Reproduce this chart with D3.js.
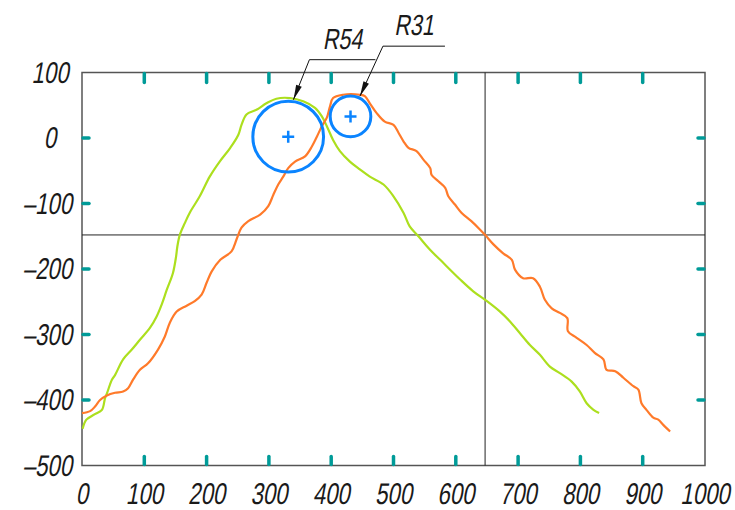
<!DOCTYPE html>
<html>
<head>
<meta charset="utf-8">
<script src="https://cdn.jsdelivr.net/npm/d3@7"></script>
<style>
  body { margin: 0; background: #fff; }
  text { font-family: "Liberation Sans", Arimo, sans-serif; fill: #1a1a1a; }
</style>
</head>
<body>
<script>
const width = 735;
const height = 510;

const xTicks = [0, 100, 200, 300, 400, 500, 600, 700, 800, 900, 1000];
const yTicks = [100, 0, -100, -200, -300, -400, -500];

// green profile
const greenX = [1, 7, 20, 32, 37, 40, 48, 53, 66, 80, 93, 109, 120, 128, 136, 146, 151, 153, 157, 165, 173, 189, 205, 221, 238, 251, 256, 264, 280, 296, 312, 334, 355, 374, 385, 393, 403, 414, 430, 446, 462, 484, 500, 516, 526, 540, 559, 575, 607, 628, 650, 671, 687, 703, 719, 735, 751, 767, 786, 799, 810, 821, 830];
const greenY = [-444, -430, -422, -415, -397, -390, -369, -362, -338, -323, -308, -290, -272, -254, -232, -206, -181, -166, -148, -130, -114, -89, -59, -36, -15, 5, 20, 36, 43, 53, 60, 61, 56, 46, 33, 18, -3, -20, -36, -48, -59, -71, -89, -114, -135, -150, -171, -186, -216, -234, -249, -265, -280, -298, -316, -331, -349, -359, -372, -387, -405, -415, -420];

// orange profile
const orangeX = [0, 13, 21, 29, 40, 53, 66, 74, 82, 93, 106, 122, 133, 141, 152, 168, 181, 192, 200, 208, 222, 240, 248, 256, 267, 286, 299, 307, 315, 323, 331, 342, 358, 369, 377, 385, 393, 398, 403, 419, 446, 454, 462, 473, 486, 500, 508, 516, 524, 537, 548, 559, 561, 572, 583, 588, 599, 609, 625, 639, 648, 660, 676, 690, 695, 708, 724, 735, 743, 754, 767, 779, 780, 794, 810, 823, 837, 842, 856, 869, 885, 893, 898, 906, 917, 925, 933, 944];
const orangeY = [-420, -417, -410, -400, -393, -389, -387, -382, -369, -354, -344, -323, -303, -282, -265, -256, -249, -239, -221, -204, -186, -173, -155, -137, -127, -117, -104, -87, -71, -59, -46, -36, -28, -13, 2, 18, 31, 48, 61, 66, 66, 64, 53, 38, 25, 20, 8, -5, -15, -20, -33, -46, -56, -66, -76, -89, -102, -114, -127, -140, -149, -162, -176, -186, -201, -214, -214, -227, -247, -260, -267, -275, -295, -305, -316, -328, -338, -354, -356, -366, -379, -384, -405, -415, -427, -430, -438, -448];

// fitted radii
const circleLabels = ["R54", "R31"];
const circleCX = [331, 431];
const circleCY = [2, 33];
const circleR = [54, 31];
const crossX = 647;
const crossY = -148;

const x = d3.scaleLinear().domain([0, 1000]).range([82, 705]);
const y = d3.scaleLinear().domain([-500, 100]).range([465.5, 72.5]);

const svg = d3.select('body').append('svg')
  .attr('width', width)
  .attr('height', height);

// narrow slanted drafting-style text
const label = (g, px, py, s, size, anchor = 'middle') => g.append('g')
  .attr('transform', `translate(${px},${py}) scale(0.74,1) skewX(-14)`)
  .append('text')
  .attr('text-anchor', anchor)
  .attr('font-size', size)
  .text(s);

// frame
svg.append('rect')
  .attr('x', x(0)).attr('y', y(100))
  .attr('width', x(1000) - x(0)).attr('height', y(-500) - y(100))
  .attr('fill', 'none').attr('stroke', '#555').attr('stroke-width', 1.5);

// crosshair
svg.append('line')
  .attr('x1', x(0)).attr('x2', x(1000)).attr('y1', y(crossY)).attr('y2', y(crossY))
  .attr('stroke', '#222').attr('stroke-width', 1);
svg.append('line')
  .attr('x1', x(crossX)).attr('x2', x(crossX)).attr('y1', y(100)).attr('y2', y(-500))
  .attr('stroke', '#222').attr('stroke-width', 1);

// teal ticks inside the frame
const innerX = xTicks.slice(1, -1);
const innerY = yTicks.slice(1, -1);
const tick = svg.append('g').attr('stroke', '#009b98').attr('stroke-width', 3.5).attr('stroke-linecap', 'round');
tick.selectAll('.tt').data(innerX).join('line')
  .attr('x1', d => x(d)).attr('x2', d => x(d)).attr('y1', y(100) + 1).attr('y2', y(100) + 10);
tick.selectAll('.tb').data(innerX).join('line')
  .attr('x1', d => x(d)).attr('x2', d => x(d)).attr('y1', y(-500) - 1).attr('y2', y(-500) - 9);
tick.selectAll('.tl').data(innerY).join('line')
  .attr('y1', d => y(d)).attr('y2', d => y(d)).attr('x1', x(0) + 1).attr('x2', x(0) + 7);
tick.selectAll('.tr').data(innerY).join('line')
  .attr('y1', d => y(d)).attr('y2', d => y(d)).attr('x1', x(1000) - 1).attr('x2', x(1000) - 7);

// tick labels
const fmt = d => d < 0 ? '\u2013' + Math.abs(d) : String(d);
const labels = svg.append('g');
xTicks.forEach(d => label(labels, x(d), 504, fmt(d), 30));
yTicks.forEach(d => {
  if (d < 0) label(labels, 72, y(d) + 10, fmt(d), 30, 'end');
  else label(labels, 50, y(d) + 10, fmt(d), 30);
});

// curves
const line = d3.line().x(d => x(d[0])).y(d => y(d[1])).curve(d3.curveCatmullRom.alpha(0.5));
svg.append('path')
  .datum(d3.zip(greenX, greenY))
  .attr('d', line)
  .attr('fill', 'none').attr('stroke', '#acdf1e').attr('stroke-width', 2.2).attr('stroke-linejoin', 'round');
svg.append('path')
  .datum(d3.zip(orangeX, orangeY))
  .attr('d', line)
  .attr('fill', 'none').attr('stroke', '#ff7a2a').attr('stroke-width', 2.2).attr('stroke-linejoin', 'round');

// fitted circles
const circles = circleLabels.map((l, i) => ({ label: l, cx: circleCX[i], cy: circleCY[i], r: circleR[i] }));
const pr = d => y(0) - y(d.r);
svg.selectAll('.fc').data(circles).join('circle')
  .attr('cx', d => x(d.cx)).attr('cy', d => y(d.cy)).attr('r', pr)
  .attr('fill', 'none').attr('stroke', '#0a84ff').attr('stroke-width', 3);
svg.selectAll('.fp').data(circles).join('path')
  .attr('d', d => {
    const cx = x(d.cx), cy = y(d.cy);
    return `M${cx - 6},${cy}H${cx + 6}M${cx},${cy - 6}V${cy + 6}`;
  })
  .attr('stroke', '#0a84ff').attr('stroke-width', 2.5).attr('fill', 'none');

// leaders
const leaderAngle = [-82, -65];
const leaderRise = [40, 50];
const leaderRun = [16, 23];
const shelf = [66, 62];
circles.forEach((d, i) => {
  const a = leaderAngle[i] * Math.PI / 180;
  const tx = x(d.cx) + (pr(d) + 2) * Math.cos(a);
  const ty = y(d.cy) + (pr(d) + 2) * Math.sin(a);
  const kx = tx + leaderRun[i];
  const ky = ty - leaderRise[i];
  svg.append('path')
    .attr('d', `M${tx},${ty}L${kx},${ky}H${kx + shelf[i]}`)
    .attr('fill', 'none').attr('stroke', '#111').attr('stroke-width', 1);
  const len = Math.hypot(kx - tx, ky - ty);
  const ux = (kx - tx) / len, uy = (ky - ty) / len;
  const al = 15, aw = 3;
  svg.append('path')
    .attr('d', `M${tx},${ty}L${tx + ux * al - uy * aw},${ty + uy * al + ux * aw}L${tx + ux * al + uy * aw},${ty + uy * al - ux * aw}Z`)
    .attr('fill', '#111');
  label(svg, kx + shelf[i] / 2, ky - 11, d.label, 29);
});
</script>
</body>
</html>
